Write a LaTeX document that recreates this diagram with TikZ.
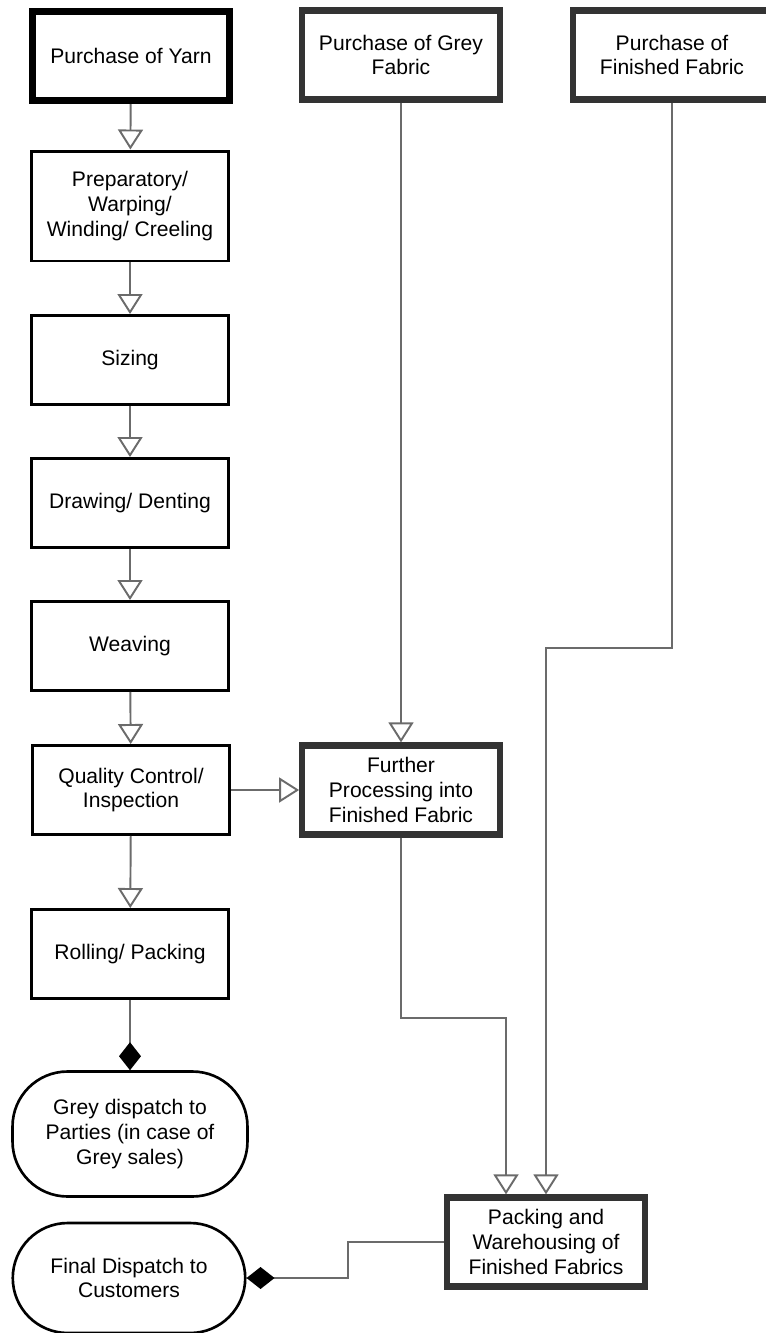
\documentclass[tikz,border=0pt]{standalone}
\usepackage{fontspec}
\setmainfont{Liberation Sans}
\usetikzlibrary{arrows.meta}

\begin{document}
\begin{tikzpicture}[x=0.02cm, y=-0.02cm,
    stepbox/.style={draw=black, line width=1.7pt, fill=white, align=center,
        minimum width=3.95cm, minimum height=1.78cm, inner sep=1pt,
        font=\fontsize{12}{14}\selectfont},
    keybox/.style={stepbox, draw=keycolor, line width=3.6pt},
    endbox/.style={stepbox, line width=1.5pt, rounded corners=1.1cm},
    flow/.style={draw=linkcolor, line width=1.1pt,
        -{Triangle[open, length=0.4cm, width=0.5cm]}},
    feed/.style={draw=linkcolor, line width=1.1pt,
        -{Diamond[black, length=0.56cm, width=0.44cm]}}]
    % Colors
    \colorlet{linkcolor}{black!58}
    \colorlet{keycolor}{black!80}

    \useasboundingbox (0,0) rectangle (765,1333);

    % Purchases
    \node[keybox, draw=black, line width=4pt] (yarn) at (131,56) {Purchase of Yarn};
    \node[keybox] (greyfab) at (401,55) {Purchase of Grey\\Fabric};
    \node[keybox] (finfab) at (672,55) {Purchase of\\Finished Fabric};

    % Weaving line
    \node[stepbox, minimum height=2.2cm] (prep) at (130,206) {Preparatory/\\Warping/\\Winding/ Creeling};
    \node[stepbox] (sizing) at (130,360) {Sizing};
    \node[stepbox] (drawing) at (130,503) {Drawing/ Denting};
    \node[stepbox] (weaving) at (130,646) {Weaving};
    \node[stepbox] (qc) at (131,790) {Quality Control/\\Inspection};
    \node[stepbox] (rolling) at (130,954) {Rolling/ Packing};

    % Finishing
    \node[keybox] (further) at (401,790) {Further\\Processing into\\Finished Fabric};
    \node[keybox] (packing) at (546,1242) {Packing and\\Warehousing of\\Finished Fabrics};

    % Dispatch
    \node[endbox, minimum width=4.7cm, minimum height=2.5cm] (greydisp) at (130,1134)
        {Grey dispatch to\\Parties (in case of\\Grey sales)};
    \node[endbox, minimum width=4.65cm, minimum height=2.2cm] (finaldisp) at (129,1278)
        {Final Dispatch to\\Customers};

    % Bends
    \coordinate (bendA) at (401,1018);
    \coordinate (bendB) at (672,648);
    \coordinate (bendC) at (348,1242);

    % Connectors
    \draw[flow] (yarn) -- (prep);
    \draw[flow] (prep) -- (sizing);
    \draw[flow] (sizing) -- (drawing);
    \draw[flow] (drawing) -- (weaving);
    \draw[flow] (weaving) -- (qc);
    \draw[flow] (qc) -- (rolling);
    \draw[flow] (qc) -- (further);
    \draw[flow] (greyfab) -- (further);
    \draw[flow] (further) -- (bendA) -| ([xshift=-0.8cm]packing.north);
    \draw[flow] (finfab) -- (bendB) -| (packing.north);
    \draw[feed] (rolling) -- (greydisp);
    \draw[feed] (packing.west) -- (bendC) |- (finaldisp.east);
\end{tikzpicture}
\end{document}
